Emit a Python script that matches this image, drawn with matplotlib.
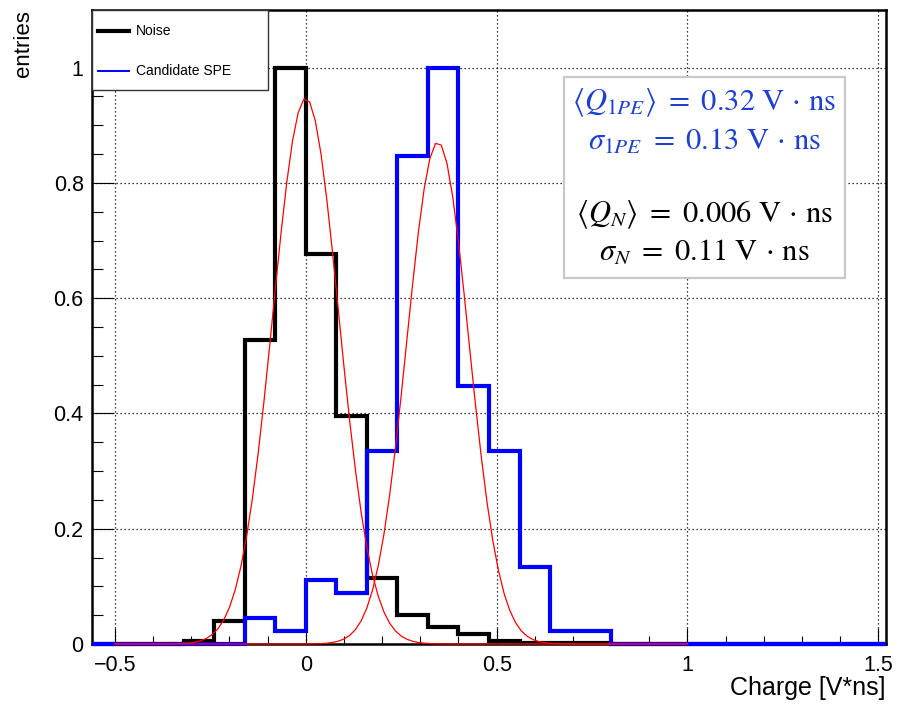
import numpy as np
import matplotlib
matplotlib.use("Agg")
import matplotlib.pyplot as plt
from matplotlib.patches import Rectangle
from matplotlib.lines import Line2D
from matplotlib.ticker import MultipleLocator

plt.rcParams['font.family'] = ['Liberation Sans', 'DejaVu Sans']
plt.rcParams['mathtext.fontset'] = 'stix'

# Histogram binning: 26 bins of 0.08 V*ns
bin_edges = np.round(np.arange(-0.56, 1.52 + 1e-9, 0.08), 2)

# Normalised charge spectra (one value per bin)
noise_counts = [0, 0, 0, 0.005, 0.040, 0.527, 1.000, 0.676, 0.395, 0.115,
                0.050, 0.029, 0.017, 0.005, 0.002, 0.001, 0.001, 0,
                0, 0, 0, 0, 0, 0, 0, 0]
spe_counts = [0, 0, 0, 0, 0, 0.045, 0.023, 0.111, 0.089, 0.334,
              0.847, 1.000, 0.447, 0.334, 0.134, 0.023, 0.023, 0,
              0, 0, 0, 0, 0, 0, 0, 0]

# Gaussian fit parameters (amplitude, mean, sigma) and fit range
noise_fit = (0.947, 0.000, 0.086)
spe_fit = (0.871, 0.346, 0.081)
fit_range = (-0.5, 1.0)

x_range = (-0.56, 1.52)
y_range = (0.0, 1.1)
x_label = "Charge [V*ns]"
y_label = "entries"
legend_labels = ["Noise", "Candidate SPE"]
unit = r"\ \mathrm{V}\,\cdot\,\mathrm{ns}"
stat_lines = [
    (r"$\langle Q_{1PE}\rangle\ =\ 0.32" + unit + "$", "#1d40d0"),
    (r"$\sigma_{1PE}\ =\ 0.13" + unit + "$", "#1d40d0"),
    (r"$\langle Q_{N}\rangle\ =\ 0.006" + unit + "$", "black"),
    (r"$\sigma_{N}\ =\ 0.11" + unit + "$", "black"),
]

W, H = 899, 704
fig = plt.figure(figsize=(W / 100, H / 100), dpi=100)
fig.patch.set_facecolor("white")

def fx(px):
    return px / W

def fy(py):
    return 1 - py / H

ax = fig.add_axes([fx(92), fy(644), fx(886) - fx(92), fy(10) - fy(644)])
ax.set_xlim(*x_range)
ax.set_ylim(*y_range)

# Grid at major ticks
ax.xaxis.set_major_locator(MultipleLocator(0.5))
ax.xaxis.set_minor_locator(MultipleLocator(0.1))
ax.yaxis.set_major_locator(MultipleLocator(0.2))
ax.yaxis.set_minor_locator(MultipleLocator(0.05))
ax.grid(True, which="major", color="black", linestyle=(0, (1, 2.2)), linewidth=0.9)
ax.set_axisbelow(True)

ax.tick_params(axis="x", which="major", direction="in", length=11.5, width=0.8,
               labelsize=15.5, pad=8, top=False)
ax.tick_params(axis="x", which="minor", direction="in", length=5.8, width=0.8, top=False)
ax.tick_params(axis="y", which="major", direction="in", length=16, width=0.8,
               labelsize=15.5, pad=6, right=False)
ax.tick_params(axis="y", which="minor", direction="in", length=8, width=0.8, right=False)
ax.xaxis.set_major_formatter(plt.FuncFormatter(
    lambda v, p: ("\u2212" if v < 0 else "") + f"{abs(v):g}"))
ax.yaxis.set_major_formatter(plt.FuncFormatter(lambda v, p: f"{v:g}"))
for s in ax.spines.values():
    s.set_linewidth(1.8)

# Histograms
ax.stairs(noise_counts, bin_edges, baseline=None, color="black", linewidth=3.0,
          joinstyle="miter", zorder=3, clip_on=False)
ax.stairs(spe_counts, bin_edges, baseline=None, color="#0000ff", linewidth=3.0,
          joinstyle="miter", zorder=4, clip_on=False)

# Gaussian fits, sampled like a TF1 (100 segments)
xf = np.linspace(fit_range[0], fit_range[1], 101)
for amp, mu, sig in (noise_fit, spe_fit):
    ax.plot(xf, amp * np.exp(-0.5 * ((xf - mu) / sig) ** 2), color="red",
            linewidth=0.9, zorder=5, clip_on=False)

# Axis titles
fig.text(fx(885), fy(688), x_label, ha="right", va="center", fontsize=18)
fig.text(fx(23), fy(10), y_label, ha="center", va="top", rotation=90, fontsize=16)

# Legend box
fig.patches.append(Rectangle((fx(92), fy(90)), fx(268) - fx(92), fy(10) - fy(90),
                             transform=fig.transFigure, facecolor="white",
                             edgecolor="#333333", linewidth=1.0, zorder=10))
fig.lines.append(Line2D([fx(98), fx(129)], [fy(31), fy(31)], transform=fig.transFigure,
                        color="black", linewidth=3.0, zorder=11))
fig.lines.append(Line2D([fx(98), fx(129)], [fy(71), fy(71)], transform=fig.transFigure,
                        color="#0000ff", linewidth=1.4, zorder=11))
fig.text(fx(136), fy(31), legend_labels[0], ha="left", va="center", fontsize=10, zorder=12)
fig.text(fx(136), fy(71), legend_labels[1], ha="left", va="center", fontsize=10, zorder=12)

# Fit summary box
fig.patches.append(Rectangle((fx(564), fy(278)), fx(845) - fx(564), fy(77) - fy(278),
                             transform=fig.transFigure, facecolor="white",
                             edgecolor="#c8c8c8", linewidth=1.6, zorder=10))
for (txt, col), ypix in zip(stat_lines, [103, 142, 215, 253]):
    fig.text(fx(704.5), fy(ypix), txt, ha="center", va="center", color=col,
             fontsize=22, zorder=12)

fig.savefig("out.png", dpi=100)
